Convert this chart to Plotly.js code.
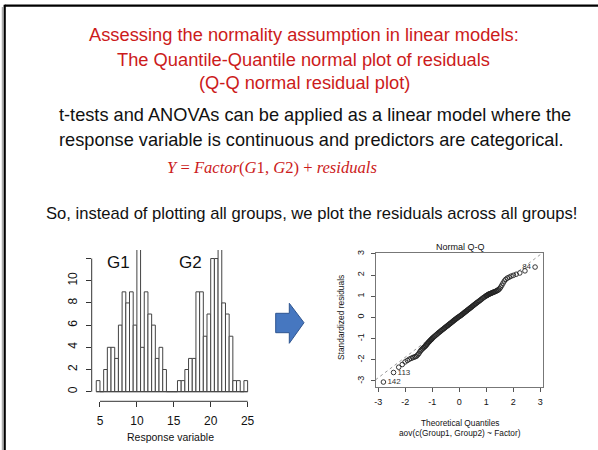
<!DOCTYPE html>
<html><head><meta charset="utf-8">
<script src="https://cdn.plot.ly/plotly-3.0.1.min.js"></script>
<style>html,body{margin:0;padding:0;background:#fff;overflow:hidden}#chart{width:598px;height:450px}</style>
</head><body><div id="chart"></div>
<script>
// ---- Histogram data (bin left edges, counts) ----
const histBinStart = [4.5,5.0,5.5,6.0,6.5,7.0,7.5,8.0,8.5,9.0,9.5,10.0,10.5,11.0,11.5,12.0,12.5,13.0,13.5,
  14.0,14.5,15.0,
  15.5,16.0,16.5,17.0,17.5,18.0,18.5,19.0,19.5,20.0,20.5,21.0,21.5,22.0,22.5,23.0,23.5,24.0,24.5];
const histCounts = [1,0,2,4,4,3,6,9,8,9,6,13,4,9,7,6,3,4,2,
  0,0,0,
  1,1,2,3,3,9,9,5,7,12,12,13,8,7,5,1,1,0,1];
const histBinWidth = 0.5;
const histXTicks = [5,10,15,20,25];
const histYTicks = [0,2,4,6,8,10,12];
const histYTickText = ['0','2','4','6','8','10',''];
const groupLabels = ['G1','G2'];
const groupLabelX = [7.45, 17.2];
const groupLabelY = [11.6, 11.6];

// ---- Q-Q plot data (theoretical quantile, standardized residual) ----
const qqTheoretical = [
 -2.807,-2.432,-2.241,-2.108,-2.005,-1.919,-1.846,-1.780,-1.722,-1.669,-1.621,-1.576,-1.534,-1.495,-1.457,-1.422,
 -1.388,-1.356,-1.326,-1.296,-1.267,-1.240,-1.213,-1.188,-1.163,-1.138,-1.115,-1.092,-1.069,-1.047,-1.026,-1.005,
 -0.984,-0.944,-0.906,-0.868,-0.833,-0.798,-0.764,-0.731,-0.698,-0.667,-0.636,-0.605,-0.576,-0.546,-0.517,-0.489,
 -0.461,-0.433,-0.406,-0.379,-0.352,-0.326,-0.300,-0.274,-0.248,-0.222,-0.197,-0.171,-0.146,-0.121,-0.095,-0.069,
 -0.044,-0.019,
 0.019,0.044,0.069,0.095,0.121,0.146,0.171,0.197,0.222,0.248,0.274,0.300,0.326,0.352,0.379,0.406,0.433,0.461,
 0.489,0.517,0.546,0.576,0.605,0.636,0.667,0.698,0.731,0.764,0.798,0.833,0.868,0.906,0.944,0.984,
 1.005,1.026,1.047,1.069,1.092,1.115,1.138,1.163,1.188,1.213,1.240,1.267,1.296,1.326,1.356,1.388,
 1.422,1.457,1.495,1.534,1.576,1.621,1.669,1.722,1.780,1.846,1.919,2.005,2.108,2.241,2.432,2.807];
const qqResidual = [
 -3.05,-2.60,-2.35,-2.22,-2.10,-2.03,-1.97,-1.93,-1.90,-1.87,-1.85,-1.82,-1.76,-1.70,-1.62,-1.56,
 -1.51,-1.47,-1.43,-1.40,-1.37,-1.33,-1.29,-1.25,-1.21,-1.17,-1.14,-1.11,-1.08,-1.05,-1.03,-1.00,
 -0.96,-0.92,-0.88,-0.84,-0.80,-0.76,-0.72,-0.69,-0.66,-0.62,-0.59,-0.56,-0.53,-0.50,-0.47,-0.44,
 -0.41,-0.39,-0.36,-0.33,-0.30,-0.28,-0.25,-0.22,-0.20,-0.17,-0.14,-0.12,-0.09,-0.07,-0.04,-0.02,
 0.01,0.03,
 0.06,0.08,0.11,0.13,0.16,0.18,0.21,0.24,0.26,0.29,0.31,0.34,0.37,0.39,0.42,0.45,0.47,0.50,
 0.53,0.56,0.59,0.62,0.65,0.68,0.71,0.74,0.77,0.80,0.84,0.87,0.91,0.94,0.98,1.01,
 1.03,1.04,1.06,1.08,1.10,1.11,1.12,1.13,1.15,1.16,1.18,1.19,1.21,1.22,1.24,1.26,
 1.28,1.31,1.36,1.43,1.52,1.62,1.72,1.80,1.86,1.90,1.95,1.99,2.04,2.10,2.20,2.38];
const qqPointLabels = ['142','113','84'];
const qqLabelIndex = [0, 1, qqTheoretical.length - 1];
const qqLabelPos = ['middle right','middle right','middle left'];
const qqTicks = [-3,-2,-1,0,1,2,3];
const qqXRange = [-3.1, 3.1];
const qqYRange = [-3.27, 3.03];
const qqLineIntercept = 0.06;
const qqLineSlope = 0.97;

// ---- page helpers (pixel -> paper) ----
const W = 598, H = 450;
const px = x => x / W;
const py = y => 1 - y / H;
const SANS = 'Liberation Sans, Arial, sans-serif';
const RED = '#cc1b1b';

const traces = [
  {type:'bar', x: histBinStart.map(s => s + histBinWidth/2), y: histCounts, width: histBinWidth,
   marker:{color:'#ffffff', line:{color:'#444', width:1}}, xaxis:'x', yaxis:'y', hoverinfo:'skip'},
  {type:'scatter', mode:'lines', x: qqXRange, y: qqXRange.map(v => qqLineIntercept + qqLineSlope*v),
   line:{color:'#9a9a9a', width:1, dash:'dot'}, xaxis:'x2', yaxis:'y2', hoverinfo:'skip'},
  {type:'scatter', mode:'markers', x: qqTheoretical, y: qqResidual,
   marker:{symbol:'circle-open', size:4.6, color:'#222', line:{width:0.9, color:'#222'}},
   xaxis:'x2', yaxis:'y2', hoverinfo:'skip'},
  {type:'scatter', mode:'text', x: qqLabelIndex.map(i => qqTheoretical[i]), y: qqLabelIndex.map(i => qqResidual[i]),
   text: qqPointLabels.map((t, k) => qqLabelPos[k] === 'middle left' ? t + '\u2002' : '\u2002' + t),
   textposition: qqLabelPos, textfont:{family:SANS, size:8, color:'#333'},
   cliponaxis:false, xaxis:'x2', yaxis:'y2', hoverinfo:'skip'}
];

const tickFont = {family:SANS, size:12, color:'#111'};
const qqTickFont = {family:SANS, size:9, color:'#111'};

const ann = (x, y, text, size, opts) => Object.assign({xref:'paper', yref:'paper', x:px(x), y:py(y), text:text,
  showarrow:false, font:{family:SANS, size:size, color:'#111'}, xanchor:'center', yanchor:'middle'}, opts||{});

const annotations = [
  ann(303.5, 35, 'Assessing the normality assumption in linear models:', 18.3, {font:{family:SANS,size:18.3,color:RED}}),
  ann(303.5, 59, 'The Quantile-Quantile normal plot of residuals', 18.3, {font:{family:SANS,size:18.3,color:RED}}),
  ann(304, 82, '(Q-Q normal residual plot)', 18.3, {font:{family:SANS,size:18.3,color:RED}}),
  ann(57, 115, 't-tests and ANOVAs can be applied as a linear model where the', 18.2, {xanchor:'left'}),
  ann(57, 140, 'response variable is continuous and predictors are categorical.', 18.2, {xanchor:'left'}),
  ann(272, 167, '<i>Y</i> = <i>Factor</i>(<i>G</i>1, <i>G</i>2) + <i>residuals</i>', 16.6,
      {font:{family:'Liberation Serif, DejaVu Serif, serif', size:16.6, color:RED}}),
  ann(311, 213, 'So, instead of plotting all groups, we plot the residuals across all groups!', 16.6),
  ann(170, 437, 'Response variable', 10.5),
  ann(460, 246.5, 'Normal Q-Q', 9),
  ann(341, 318, 'Standardized residuals', 8.4, {textangle:-90}),
  ann(460, 422.5, 'Theoretical Quantiles', 8.3),
  ann(460, 432.5, 'aov(c(Group1, Group2) ~ Factor)', 8.3)
];
groupLabels.forEach((g, i) => annotations.push({xref:'x', yref:'y', x:groupLabelX[i], y:groupLabelY[i], text:g,
  showarrow:false, font:{family:SANS, size:17, color:'#111'}, xanchor:'center', yanchor:'middle'}));

const arrowPts = [[275.7,313.3],[289.3,313.3],[289.3,303.3],[304,322.7],[289.3,343.3],[289.3,332.7],[275.7,332.7]];
const arrowPath = 'M ' + arrowPts.map(p => px(p[0]).toFixed(5) + ',' + py(p[1]).toFixed(5)).join(' L ') + ' Z';

const histAxisY = 401.3, histAxisX = 91.7;
const shapes = [
  // slide border
  {type:'line', xref:'paper', yref:'paper', x0:px(4.7), x1:1.02, y0:py(5.7), y1:py(5.7), line:{color:'#000', width:2.2}},
  {type:'line', xref:'paper', yref:'paper', x0:px(4.7), x1:px(4.7), y0:py(4.7), y1:-0.02, line:{color:'#000', width:2.2}},
  {type:'line', xref:'paper', yref:'paper', x0:px(2.3), x1:px(2.3), y0:py(7), y1:-0.02, line:{color:'#9a9a9a', width:1}},
  // histogram R-style axes
  {type:'line', xref:'x', yref:'paper', x0:histXTicks[0], x1:histXTicks[histXTicks.length-1], y0:py(histAxisY), y1:py(histAxisY), line:{color:'#333', width:1}},
  {type:'line', xref:'paper', yref:'y', x0:px(histAxisX), x1:px(histAxisX), y0:histYTicks[0], y1:histYTicks[histYTicks.length-1], line:{color:'#333', width:1}},
  {type:'line', xref:'x', yref:'y', x0:histBinStart[0], x1:histBinStart[histBinStart.length-1] + histBinWidth, y0:0, y1:0, line:{color:'#444', width:1}},
  // arrow
  {type:'path', xref:'paper', yref:'paper', path: arrowPath, fillcolor:'#4677c0', line:{color:'#2f5590', width:1}}
];

const layout = {
  width: W, height: H, margin:{l:0, r:0, t:0, b:0}, paper_bgcolor:'#fff', plot_bgcolor:'rgba(0,0,0,0)',
  showlegend:false, bargap:0,
  xaxis:{domain:[px(histAxisX), px(255)], range:[3.88, 26.0], anchor:'y', showline:false, zeroline:false, showgrid:false,
    ticks:'outside', ticklen:5, tickwidth:1, tickcolor:'#333', tickvals:histXTicks, ticktext:histXTicks.map(String),
    tickfont:tickFont, ticklabelstandoff:3},
  yaxis:{domain:[py(histAxisY), py(250)], range:[-0.865, 12.77], anchor:'x', showline:false, zeroline:false, showgrid:false,
    ticks:'outside', ticklen:5, tickwidth:1, tickcolor:'#333', tickvals:histYTicks, ticktext:histYTickText,
    tickangle:-90, tickfont:tickFont, ticklabelstandoff:4},
  xaxis2:{domain:[px(375.5), px(543)], range:qqXRange, anchor:'y2', showline:true, mirror:true, linecolor:'#777', linewidth:1,
    zeroline:false, showgrid:false, ticks:'outside', ticklen:4, tickwidth:1, tickcolor:'#555', tickvals:qqTicks,
    ticktext:qqTicks.map(String), tickfont:qqTickFont, ticklabelstandoff:2},
  yaxis2:{domain:[py(386.7), py(253.3)], range:qqYRange, anchor:'x2', showline:true, mirror:true, linecolor:'#777', linewidth:1,
    zeroline:false, showgrid:false, ticks:'outside', ticklen:4, tickwidth:1, tickcolor:'#555', tickvals:qqTicks,
    ticktext:qqTicks.map(String), tickangle:-90, tickfont:qqTickFont, ticklabelstandoff:3},
  annotations: annotations,
  shapes: shapes
};

Plotly.newPlot('chart', traces, layout, {staticPlot:true, displayModeBar:false});
</script>
</body></html>
